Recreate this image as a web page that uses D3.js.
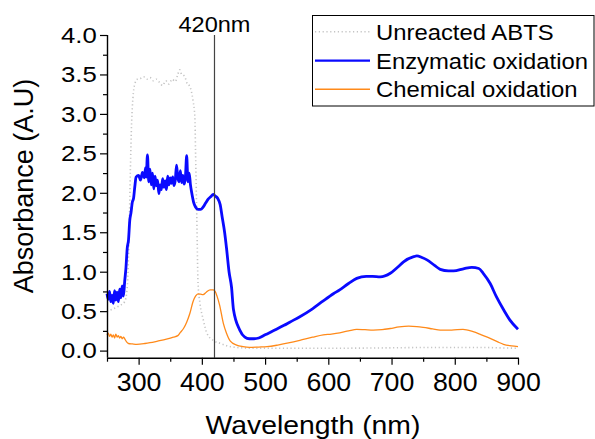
<!DOCTYPE html>
<html>
<head>
<meta charset="utf-8">
<script src="https://cdn.jsdelivr.net/npm/d3@7"></script>
<style>
  html, body { margin: 0; padding: 0; background: #fff; }
  svg { display: block; font-family: "Liberation Sans", Arial, sans-serif; }
</style>
</head>
<body>
<svg id="chart" width="595" height="439"></svg>
<script>
// Wavelength (nm) and absorbance readings for each spectrum
const enzymaticWl = [250,252,254,256,258,260,262,264,266,268,270,272,274,276,278,280,282,284,286,288,290,292,294,296,
  300,303,306,309,311,312,314,316,318,320,322,324,326,328,330,332,334,336,338,340,342,344,346,348,350,352,354,356,358,
  360,362,364,366,368,370,372,374,376,378,380,382,384,387,390,394,398,402,406,410,414,418,421,425,429,432,436,439,443,
  447,450,460,468,475,482,490,500,518,530,539,555,575,592,608,618,632,645,660,670,682,698,710,719,735,740,748,756,768,
  777,790,798,815,827,838,845,856,866,877,887,900];
const enzymaticAbs = [0.72,0.65,0.75,0.62,0.70,0.60,0.76,0.64,0.74,0.62,0.78,0.67,0.82,0.69,0.88,1.05,1.30,1.40,1.65,1.75,1.88,1.93,2.08,2.20,
  2.22,2.16,2.26,2.19,2.32,2.20,2.48,2.14,2.30,2.10,2.25,2.05,2.21,2.09,2.16,1.99,2.10,2.04,2.18,2.07,2.15,2.04,2.21,2.10,
  2.19,2.12,2.20,2.09,2.16,2.35,2.19,2.14,2.28,2.13,2.22,2.11,2.20,2.47,2.14,2.25,2.10,2.00,1.88,1.82,1.79,1.79,1.82,1.87,
  1.92,1.95,1.98,1.96,1.93,1.85,1.70,1.50,1.30,1.00,0.80,0.52,0.26,0.17,0.15,0.15,0.16,0.20,0.27,0.32,0.36,0.43,0.53,0.63,
  0.72,0.77,0.85,0.915,0.94,0.94,0.935,0.98,1.06,1.125,1.19,1.20,1.18,1.15,1.08,1.03,1.01,1.01,1.04,1.055,1.04,0.98,0.85,
  0.68,0.52,0.39,0.27];

const chemicalWl = [250,252,254,256,258,260,262,264,266,268,270,272,274,276,278,281,284,290,297,310,318,330,344,355,362,366,
  371,376,381,386,390,394,398,402,407,413,418,421,424,428,434,439,445,455,465,475,490,503,520,539,555,575,592,605,618,632,
  645,658,671,685,698,712,727,740,750,765,777,795,813,829,842,856,868,877,890,900];
const chemicalAbs = [0.20,0.22,0.18,0.21,0.17,0.20,0.16,0.21,0.17,0.19,0.16,0.18,0.15,0.17,0.15,0.11,0.09,0.085,0.08,0.09,
  0.10,0.12,0.145,0.17,0.19,0.23,0.28,0.36,0.47,0.62,0.69,0.72,0.715,0.71,0.74,0.77,0.77,0.75,0.69,0.58,0.345,0.22,0.12,
  0.07,0.05,0.04,0.045,0.05,0.07,0.10,0.13,0.17,0.20,0.21,0.225,0.25,0.27,0.265,0.26,0.265,0.28,0.30,0.31,0.305,0.295,
  0.275,0.26,0.26,0.27,0.24,0.20,0.155,0.11,0.08,0.06,0.05];

const unreactedWl = [250,260,270,278,282,285,287,289,291,294,298,303,308,313,318,323,328,333,338,343,348,353,358,362,365,
  368,371,374,377,380,383,386,389,390,392,394,397,402,408,418,430,440,455,480,520,600,700,760,800,840,870,900];
const unreactedAbs = [0.50,0.53,0.57,0.62,0.80,1.50,2.30,2.90,3.20,3.38,3.44,3.45,3.47,3.44,3.46,3.42,3.44,3.40,3.36,3.42,
  3.38,3.44,3.41,3.50,3.56,3.50,3.49,3.45,3.38,3.36,3.30,3.17,2.96,2.54,1.70,0.85,0.60,0.40,0.22,0.13,0.09,0.06,0.04,0.03,
  0.03,0.03,0.035,0.04,0.04,0.04,0.035,0.03];

const xMajorTicks = [300, 400, 500, 600, 700, 800, 900];
const xMinorTicks = [250, 350, 450, 550, 650, 750, 850];
const yMajorTicks = [0, 0.5, 1.0, 1.5, 2.0, 2.5, 3.0, 3.5, 4.0];
const yMinorTicks = [0.25, 0.75, 1.25, 1.75, 2.25, 2.75, 3.25, 3.75];
const markerWl = 420;

const seriesNames = ["Unreacted ABTS", "Enzymatic oxidation", "Chemical oxidation"];

const svg = d3.select("#chart");
const plotLeft = 107, plotRight = 518, plotTop = 35, plotBottom = 357.7;

const x = d3.scaleLinear().domain([250, 900]).range([plotLeft, plotRight]);
const y = d3.scaleLinear().domain([-0.09, 4.0]).range([plotBottom, plotTop]);

const styles = [
  { color: "#c4c4c4", width: 1.6, dash: "1.2,2.6" },
  { color: "#0a0aff", width: 2.8, dash: null },
  { color: "#ff8a1a", width: 1.3, dash: null }
];
const series = [
  d3.zip(unreactedWl, unreactedAbs),
  d3.zip(enzymaticWl, enzymaticAbs),
  d3.zip(chemicalWl, chemicalAbs)
];

const line = d3.line().curve(d3.curveMonotoneX).x(d => x(d[0])).y(d => y(d[1]));

// Spectra
const plot = svg.append("g");
series.forEach((s, i) => {
  plot.append("path")
    .datum(s)
    .attr("d", line)
    .attr("fill", "none")
    .attr("stroke", styles[i].color)
    .attr("stroke-width", styles[i].width)
    .attr("stroke-linejoin", "round")
    .attr("stroke-dasharray", styles[i].dash);
});

// 420 nm marker
svg.append("line")
  .attr("x1", x(markerWl)).attr("x2", x(markerWl))
  .attr("y1", plotTop).attr("y2", plotBottom)
  .attr("stroke", "#444").attr("stroke-width", 1.2);

const markerLabel = svg.append("g").attr("transform", `translate(${x(markerWl)},31.5) scale(1.07,1)`);
markerLabel.append("text").attr("text-anchor", "middle").attr("font-size", 22).attr("fill", "#000").text(markerWl + "nm");

// Axes
function styleAxis(g) {
  g.select(".domain").attr("stroke", "#000").attr("stroke-width", 1.4);
  g.selectAll(".tick line").attr("stroke", "#000").attr("stroke-width", 1.2);
}

const xAxis = svg.append("g").attr("transform", `translate(0,${plotBottom})`)
  .call(d3.axisBottom(x).tickValues(xMajorTicks).tickSize(7).tickSizeOuter(0).tickPadding(9)
    .tickFormat(d3.format("d")));
xAxis.call(styleAxis);
xAxis.selectAll(".tick text").attr("font-size", 25).attr("fill", "#000")
  .attr("font-family", "Liberation Sans, Arial, sans-serif")
  .attr("transform", "scale(1.07,1)");
svg.append("g").attr("transform", `translate(0,${plotBottom})`)
  .call(d3.axisBottom(x).tickValues(xMinorTicks).tickSize(4).tickSizeOuter(0).tickFormat(""))
  .call(g => g.select(".domain").remove())
  .selectAll(".tick line").attr("stroke", "#000").attr("stroke-width", 1.2);

const yAxis = svg.append("g").attr("transform", `translate(${plotLeft},0)`)
  .call(d3.axisLeft(y).tickValues(yMajorTicks).tickSize(7).tickSizeOuter(0).tickPadding(3.3)
    .tickFormat(d3.format(".1f")));
yAxis.call(styleAxis);
yAxis.select(".domain").attr("d", `M0.5,${plotBottom}V${plotTop}`);
yAxis.selectAll(".tick text").attr("font-size", 23).attr("fill", "#000")
  .attr("font-family", "Liberation Sans, Arial, sans-serif")
  .each(function() {
    const t = d3.select(this);
    const xx = +t.attr("x");
    t.attr("x", xx / 1.12).attr("transform", "scale(1.12,1)");
  });
svg.append("g").attr("transform", `translate(${plotLeft},0)`)
  .call(d3.axisLeft(y).tickValues(yMinorTicks).tickSize(4).tickSizeOuter(0).tickFormat(""))
  .call(g => g.select(".domain").remove())
  .selectAll(".tick line").attr("stroke", "#000").attr("stroke-width", 1.2);

// Axis titles
svg.append("g").attr("transform", `translate(${(plotLeft + plotRight) / 2 + 0.5},434) scale(1.07,1)`)
  .append("text").attr("text-anchor", "middle").attr("font-size", 26.5).attr("fill", "#000")
  .text("Wavelength (nm)");
svg.append("g").attr("transform", `translate(33.3,186) rotate(-90)`)
  .append("text").attr("text-anchor", "middle").attr("font-size", 27).attr("fill", "#000")
  .text("Absorbance (A.U)");

// Legend
const legend = svg.append("g");
legend.append("rect")
  .attr("x", 312.5).attr("y", 15.5).attr("width", 281.5).attr("height", 90.5)
  .attr("fill", "#fff").attr("stroke", "#000").attr("stroke-width", 1);
const rowY = [31.7, 60.7, 89.3];
seriesNames.forEach((name, i) => {
  legend.append("line")
    .attr("x1", 315).attr("x2", 370).attr("y1", rowY[i]).attr("y2", rowY[i])
    .attr("stroke", styles[i].color)
    .attr("stroke-width", i === 0 ? 1.4 : (i === 1 ? 2.2 : 1.5))
    .attr("stroke-dasharray", styles[i].dash);
  legend.append("g").attr("transform", `translate(376,${rowY[i] + 8}) scale(1.07,1)`)
    .append("text").attr("font-size", 22.3).attr("fill", "#000").text(name);
});
</script>
</body>
</html>
